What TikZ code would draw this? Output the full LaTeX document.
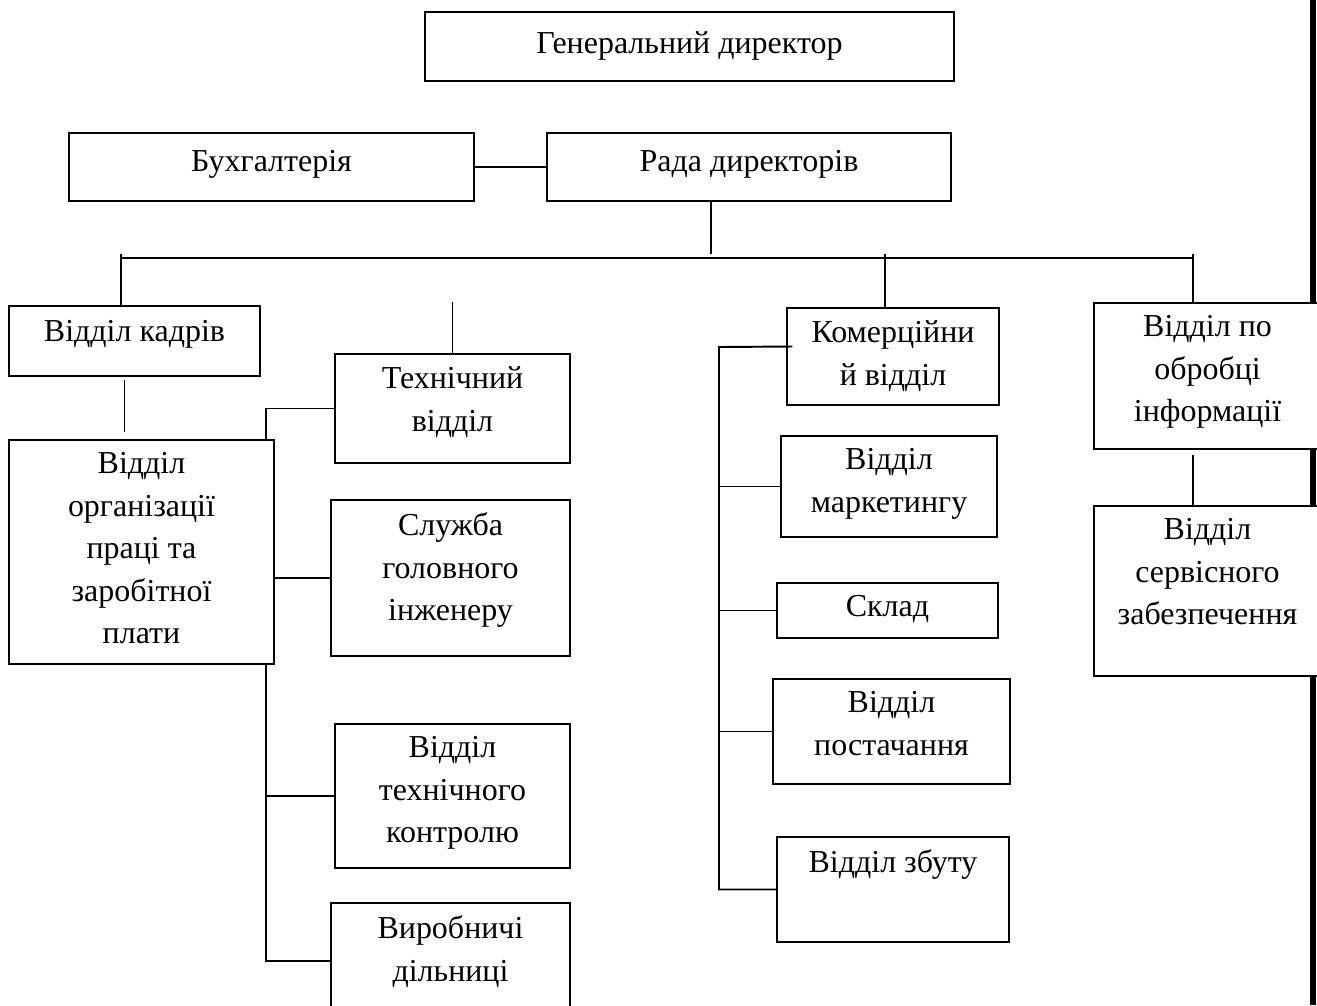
\documentclass[tikz,border=0pt]{standalone}
\usepackage{fontspec}
\setmainfont{Liberation Serif}
\usetikzlibrary{fit}

\begin{document}
\begin{tikzpicture}[x=0.02cm, y=-0.02cm,
    box/.style={draw=black, fill=white, inner sep=0pt, line width=0.8pt},
    txt/.style={anchor=north, align=center, inner sep=0pt, yshift=-0.26cm,
      font=\fontsize{18.2}{24.2}\selectfont},
    link/.style={draw=black, line width=1.1pt}]
  \useasboundingbox (0,0) rectangle (1317,1005);
  \clip (0,0) rectangle (1317,1005);

  % heavy rule along the right edge
  \draw[line width=0.12cm] (1313,0) -- (1313,1005);

  % top level
  \node[box, fit={(425,12) (954,81)}, label={[txt, yshift=-0.14cm]north:Генеральний директор}] (gen) {};
  \node[box, fit={(69,133) (474,201)}, label={[txt, yshift=-0.1cm]north:Бухгалтерія}] (buh) {};
  \node[box, fit={(547,133) (951,201)}, label={[txt, yshift=-0.1cm]north:Рада директорів}] (rada) {};

  % left column
  \node[box, fit={(9,306) (260,376)}, label={[txt, yshift=-0.04cm]north:Відділ кадрів}] (kadry) {};
  \node[box, fit={(9,440) (274,664)}, label={[txt]north:Відділ\\організації\\праці та\\заробітної\\плати}] (org) {};
  \node[box, fit={(335,354) (570,463)}, label={[txt]north:Технічний\\відділ}] (tech) {};
  \node[box, fit={(331,500) (570,656)}, label={[txt]north:Служба\\головного\\інженеру}] (sl) {};
  \node[box, fit={(335,724) (570,868)}, label={[txt]north:Відділ\\технічного\\контролю}] (tk) {};
  \node[box, fit={(331,903) (570,1019)}, label={[txt]north:Виробничі\\дільниці}] (vyr) {};

  % commercial column
  \node[box, fit={(787,308) (999,405)}, label={[txt]north:Комерційни\\й відділ}] (kom) {};
  \node[box, fit={(781,436) (997,537)}, label={[txt]north:Відділ\\маркетингу}] (mk) {};
  \node[box, fit={(777,583) (998,638)}, label={[txt]north:Склад}] (sk) {};
  \node[box, fit={(773,679) (1010,784)}, label={[txt]north:Відділ\\постачання}] (ps) {};
  \node[box, fit={(777,837) (1009,942)}, label={[txt]north:Відділ збуту}] (zb) {};

  % information column
  \node[box, fit={(1094,303) (1321,449)}, label={[txt]north:Відділ по\\обробці\\інформації}] (obr) {};
  \node[box, fit={(1094,506) (1321,676)}, label={[txt]north:Відділ\\сервісного\\забезпечення}] (srv) {};

  % bus under the board
  \coordinate (busL) at (121,258);
  \coordinate (busR) at (1193,258);
  \coordinate (trunkO) at ([shift={(-9,0)}]org.south east);
  \coordinate (trunkK) at (719,347);

  \draw[link] (buh.east) -- (rada.west);
  \draw[link] (rada.south -| 711,0) -- (711,254);
  \draw[link] (busL) -- (busR);
  \draw[link] ([shift={(0,-4)}]busL) -- (busL |- kadry.north);
  \draw[link] (885,254) -- (885,0 |- kom.north);
  \draw[link] ([shift={(0,-4)}]busR) -- (busR |- obr.north);
  \draw[link] (tech.north) -- ++(0,-51);
  \draw[link] ([shift={(-10,3)}]kadry.south) -- ++(0,52);

  \draw[link] (tech.west) -| ([shift={(-9,0)}]org.north east);
  \draw[link] (org.east |- sl.west) -- (sl.west);
  \draw[link] (trunkO) |- (vyr.west);
  \draw[link] (tk.west) -- (tk.west -| trunkO);

  \draw[link] ([shift={(6,-10)}]kom.west) -- (trunkK) -- (trunkK |- zb.west) -- (zb.west);
  \foreach \n in {mk,sk,ps}
    \draw[link] (\n.west) -- (\n.west -| trunkK);

  \draw[link] ([shift={(0,5)}]obr.south -| busR) -- (busR |- srv.north);
\end{tikzpicture}
\end{document}
